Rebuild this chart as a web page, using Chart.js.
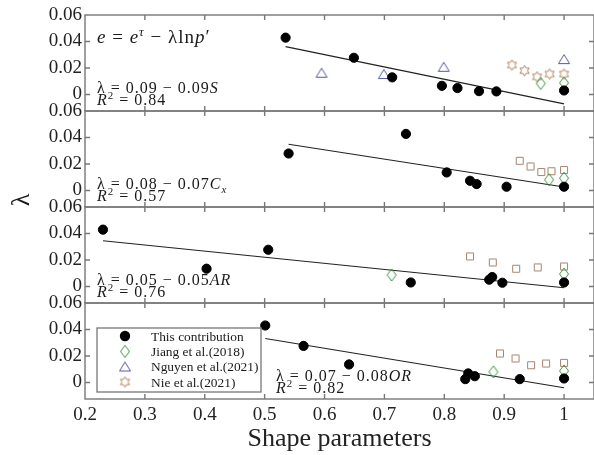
<!DOCTYPE html>
<html>
<head>
<meta charset="utf-8">
<script src="https://cdn.jsdelivr.net/npm/chart.js@4.4.1/dist/chart.umd.min.js"></script>
<style>
  html, body { margin: 0; padding: 0; background: #fff; overflow: hidden; }
  #myChart { display: block; }
</style>
</head>
<body>
<canvas id="myChart" width="600" height="455"></canvas>
<script>
var ctx = document.getElementById("myChart");

var xTicks = [0.2, 0.3, 0.4, 0.5, 0.6, 0.7, 0.8, 0.9, 1.0];
var yTicks = [0, 0.02, 0.04, 0.06];
var seriesNames = ['This contribution', 'Jiang et al.(2018)', 'Nguyen et al.(2021)', 'Nie et al.(2021)'];

// panel 1 : S
var thisX1 = [0.535, 0.649, 0.713, 0.796, 0.822, 0.858, 0.887, 1.0];
var thisY1 = [0.0429, 0.0277, 0.0129, 0.0065, 0.0048, 0.0025, 0.0023, 0.0030];
var jiangX1 = [0.961, 1.0];
var jiangY1 = [0.0083, 0.0088];
var nguyenX1 = [0.595, 0.699, 0.799, 1.0];
var nguyenY1 = [0.0164, 0.0154, 0.0209, 0.0267];
var nieX1 = [0.913, 0.934, 0.955, 0.976, 1.0];
var nieY1 = [0.0222, 0.0179, 0.0133, 0.0154, 0.0154];
var fitX1 = [0.535, 1.0];
var fitY1 = [0.0361, -0.0071];

// panel 2 : Cx
var thisX2 = [0.540, 0.736, 0.804, 0.843, 0.854, 0.904, 1.0];
var thisY2 = [0.0279, 0.0427, 0.0136, 0.0073, 0.0048, 0.0028, 0.0028];
var jiangX2 = [0.975, 1.0];
var jiangY2 = [0.0081, 0.0093];
var nieX2 = [0.926, 0.944, 0.962, 0.979, 1.0];
var nieY2 = [0.0224, 0.0181, 0.0139, 0.0145, 0.0154];
var fitX2 = [0.54, 1.0];
var fitY2 = [0.0349, 0.0026];

// panel 3 : AR
var thisX3 = [0.230, 0.403, 0.506, 0.744, 0.875, 0.880, 0.897, 1.0];
var thisY3 = [0.0429, 0.0134, 0.0277, 0.0030, 0.0051, 0.0071, 0.0028, 0.0030];
var jiangX3 = [0.712, 1.0];
var jiangY3 = [0.0086, 0.0094];
var nieX3 = [0.843, 0.881, 0.920, 0.956, 1.0];
var nieY3 = [0.0227, 0.0181, 0.0134, 0.0144, 0.0151];
var fitX3 = [0.23, 1.0];
var fitY3 = [0.0345, -0.0010];

// panel 4 : OR
var thisX4 = [0.501, 0.565, 0.641, 0.835, 0.840, 0.851, 0.926, 1.0];
var thisY4 = [0.0430, 0.0276, 0.0136, 0.0025, 0.0068, 0.0047, 0.0025, 0.0030];
var jiangX4 = [0.882, 1.0];
var jiangY4 = [0.0080, 0.0087];
var nieX4 = [0.893, 0.919, 0.945, 0.970, 1.0];
var nieY4 = [0.0219, 0.0181, 0.0130, 0.0143, 0.0148];
var fitX4 = [0.501, 1.0];
var fitY4 = [0.0332, -0.0040];

var fitA = ['0.09', '0.08', '0.05', '0.07'];
var fitB = ['0.09', '0.07', '0.05', '0.08'];
var fitVar = ['S', 'C', 'AR', 'OR'];
var fitSub = ['', 'x', '', ''];
var fitR2 = ['0.84', '0.57', '0.76', '0.82'];

var axisIds = ['y1', 'y2', 'y3', 'y4'];
var FONT = '"Liberation Serif", "Times New Roman", serif';

var green = '#3c963c', blue = '#5656a6', brown = '#b4845c', tan = '#a4846c';

function makeMarker(kind, color) {
    var cv = document.createElement('canvas');
    var g;
    if (kind === 'diamond') {
        cv.width = 12; cv.height = 16;
        g = cv.getContext('2d');
        g.beginPath();
        g.moveTo(6, 2); g.lineTo(10.5, 8); g.lineTo(6, 14); g.lineTo(1.5, 8); g.closePath();
    } else if (kind === 'triangle') {
        cv.width = 14; cv.height = 12;
        g = cv.getContext('2d');
        g.beginPath();
        g.moveTo(7, 1.5); g.lineTo(12.5, 10.5); g.lineTo(1.5, 10.5); g.closePath();
    } else if (kind === 'hexagram') {
        cv.width = 13; cv.height = 13;
        g = cv.getContext('2d');
        g.beginPath();
        for (var i = 0; i < 12; i++) {
            var r = i % 2 === 0 ? 5.3 : 3.0;
            var a = -Math.PI / 2 + i * Math.PI / 6;
            var px = 6.5 + r * Math.cos(a), py = 6.5 + r * Math.sin(a);
            if (i === 0) g.moveTo(px, py); else g.lineTo(px, py);
        }
        g.closePath();
    } else {
        cv.width = 10; cv.height = 10;
        g = cv.getContext('2d');
        g.beginPath();
        g.rect(1.5, 1.5, 7, 7);
    }
    g.strokeStyle = color;
    g.lineWidth = 1;
    g.stroke();
    return cv;
}

var diamondImg = makeMarker('diamond', green);
var triangleImg = makeMarker('triangle', blue);
var hexImg = makeMarker('hexagram', brown);
var squareImg = makeMarker('square', tan);

function pts(xs, ys) {
    return xs.map(function (x, i) { return {x: x, y: ys[i]}; });
}

function dots(label, xs, ys, axis) {
    return {label: label, data: pts(xs, ys), yAxisID: axis, pointStyle: 'circle',
        backgroundColor: '#000', borderColor: '#000', borderWidth: 1, pointRadius: 4.6, order: 1};
}

function marks(label, xs, ys, axis, img) {
    return {label: label, data: pts(xs, ys), yAxisID: axis, pointStyle: img,
        pointRadius: 5, order: 2};
}

function fitLine(xs, ys, axis) {
    return {label: 'fit', data: pts(xs, ys), yAxisID: axis, showLine: true, pointRadius: 0,
        borderColor: '#222', borderWidth: 1.1, order: 3};
}

var datasets = [
    dots(seriesNames[0], thisX1, thisY1, 'y1'),
    marks(seriesNames[1], jiangX1, jiangY1, 'y1', diamondImg),
    marks(seriesNames[2], nguyenX1, nguyenY1, 'y1', triangleImg),
    marks(seriesNames[3], nieX1, nieY1, 'y1', hexImg),
    fitLine(fitX1, fitY1, 'y1'),

    dots(seriesNames[0], thisX2, thisY2, 'y2'),
    marks(seriesNames[1], jiangX2, jiangY2, 'y2', diamondImg),
    marks(seriesNames[3], nieX2, nieY2, 'y2', squareImg),
    fitLine(fitX2, fitY2, 'y2'),

    dots(seriesNames[0], thisX3, thisY3, 'y3'),
    marks(seriesNames[1], jiangX3, jiangY3, 'y3', diamondImg),
    marks(seriesNames[3], nieX3, nieY3, 'y3', squareImg),
    fitLine(fitX3, fitY3, 'y3'),

    dots(seriesNames[0], thisX4, thisY4, 'y4'),
    marks(seriesNames[1], jiangX4, jiangY4, 'y4', diamondImg),
    marks(seriesNames[3], nieX4, nieY4, 'y4', squareImg),
    fitLine(fitX4, fitY4, 'y4')
];

function yAxis(weight) {
    return {
        type: 'linear', position: 'left', stack: 'panels', stackWeight: 1, weight: weight,
        min: -0.0125, max: 0.06,
        grid: {display: false, drawTicks: false}, border: {display: false},
        afterBuildTicks: function (s) { s.ticks = yTicks.map(function (v) { return {value: v}; }); },
        afterFit: function (s) { s.width = 85; },
        ticks: {
            padding: 3, color: '#222', autoSkip: false, font: {family: FONT, size: 19},
            callback: function (v) { return v === 0 ? '0' : v.toFixed(2); }
        }
    };
}

function drawRuns(c, x, y, size, runs, spacing) {
    c.letterSpacing = (spacing || 0) + 'px';
    runs.forEach(function (r) {
        var small = r.sup || r.sub;
        var fs = small ? size * 0.68 : size;
        c.font = (r.it ? 'italic ' : '') + fs + 'px ' + FONT;
        var dy = r.sup ? -size * 0.38 : (r.sub ? size * 0.22 : 0);
        c.fillText(r.t, x, y + dy);
        x += c.measureText(r.t).width;
    });
    c.letterSpacing = '0px';
}

var frames = {
    id: 'frames',
    beforeDatasetsDraw: function (chart) {
        var c = chart.ctx, a = chart.chartArea, xs = chart.scales.x;
        c.save();
        c.strokeStyle = '#777';
        c.lineWidth = 1.4;
        axisIds.forEach(function (id) {
            var s = chart.scales[id];
            c.strokeRect(a.left, s.top, a.right - a.left, s.bottom - s.top);
            c.beginPath();
            xTicks.slice(1).forEach(function (v) {
                var px = xs.getPixelForValue(v);
                c.moveTo(px, s.top); c.lineTo(px, s.top + 5);
                c.moveTo(px, s.bottom); c.lineTo(px, s.bottom - 5);
            });
            yTicks.slice(0, 3).forEach(function (v) {
                var py = s.getPixelForValue(v);
                c.moveTo(a.left, py); c.lineTo(a.left + 5, py);
                c.moveTo(a.right, py); c.lineTo(a.right - 5, py);
            });
            c.stroke();
        });
        c.restore();
    },
    afterDatasetsDraw: function (chart) {
        var c = chart.ctx;
        c.save();
        c.fillStyle = '#1a1a1a';
        c.textBaseline = 'alphabetic';

        // model equation, top panel
        drawRuns(c, 97, 43, 19, [
            {t: 'e', it: 1}, {t: ' = '}, {t: 'e', it: 1}, {t: 'τ', it: 1, sup: 1},
            {t: ' − λln'}, {t: 'p', it: 1}, {t: '′'}
        ], 1);

        // fitted relations
        axisIds.forEach(function (id, k) {
            var s = chart.scales[id];
            var zero = s.getPixelForValue(0);
            var x0 = k === 3 ? 276 : 97;
            drawRuns(c, x0, zero - 1, 16, [
                {t: 'λ = ' + fitA[k] + ' − ' + fitB[k]}, {t: fitVar[k], it: 1},
                {t: fitSub[k], it: 1, sub: 1}
            ], 1);
            drawRuns(c, x0, zero + 11, 16, [
                {t: 'R', it: 1}, {t: '2', sup: 1}, {t: ' = ' + fitR2[k]}
            ], 1);
        });

        // y title
        c.save();
        c.translate(22, 200);
        c.rotate(-Math.PI / 2);
        c.textAlign = 'center';
        c.textBaseline = 'middle';
        c.font = '26px ' + FONT;
        c.fillText('λ', 0, 0);
        c.restore();

        // legend box in bottom panel
        var lx = 97, ly = 328, lw = 164, lh = 64;
        c.fillStyle = '#fff';
        c.fillRect(lx, ly, lw, lh);
        c.strokeStyle = '#777';
        c.lineWidth = 1.3;
        c.strokeRect(lx, ly, lw, lh);
        var rows = [336, 351.5, 366.5, 382];
        var icons = [null, diamondImg, triangleImg, hexImg];
        c.textBaseline = 'middle';
        c.font = '13.4px ' + FONT;
        seriesNames.forEach(function (name, i) {
            if (icons[i]) {
                c.drawImage(icons[i], 125 - icons[i].width / 2, rows[i] - icons[i].height / 2);
            } else {
                c.beginPath();
                c.arc(125, rows[i], 5.2, 0, Math.PI * 2);
                c.fillStyle = '#000';
                c.fill();
            }
            c.fillStyle = '#1a1a1a';
            c.fillText(name, 151, rows[i] + 1);
        });
        c.restore();
    }
};

var chart = new Chart(ctx, {
    type: 'scatter',
    data: {datasets: datasets},
    options: {
        responsive: false,
        animation: false,
        layout: {padding: {top: 15, right: 3, left: 0, bottom: 0}},
        plugins: {legend: {display: false}, tooltip: {enabled: false}},
        scales: {
            x: {
                type: 'linear', position: 'bottom', min: 0.2, max: 1.05,
                grid: {display: false, drawTicks: false}, border: {display: false},
                afterBuildTicks: function (s) { s.ticks = xTicks.map(function (v) { return {value: v}; }); },
                afterFit: function (s) { s.height = 56; },
                ticks: {
                    padding: 5, color: '#222', maxRotation: 0, autoSkip: false,
                    font: {family: FONT, size: 19},
                    callback: function (v) { return v === 1 ? '1' : v.toFixed(1); }
                },
                title: {
                    display: true, text: 'Shape parameters', color: '#222',
                    font: {family: FONT, size: 26}, padding: {top: 0, bottom: 0}
                }
            },
            y1: yAxis(4),
            y2: yAxis(3),
            y3: yAxis(2),
            y4: yAxis(1)
        }
    },
    plugins: [frames]
});
</script>
</body>
</html>
